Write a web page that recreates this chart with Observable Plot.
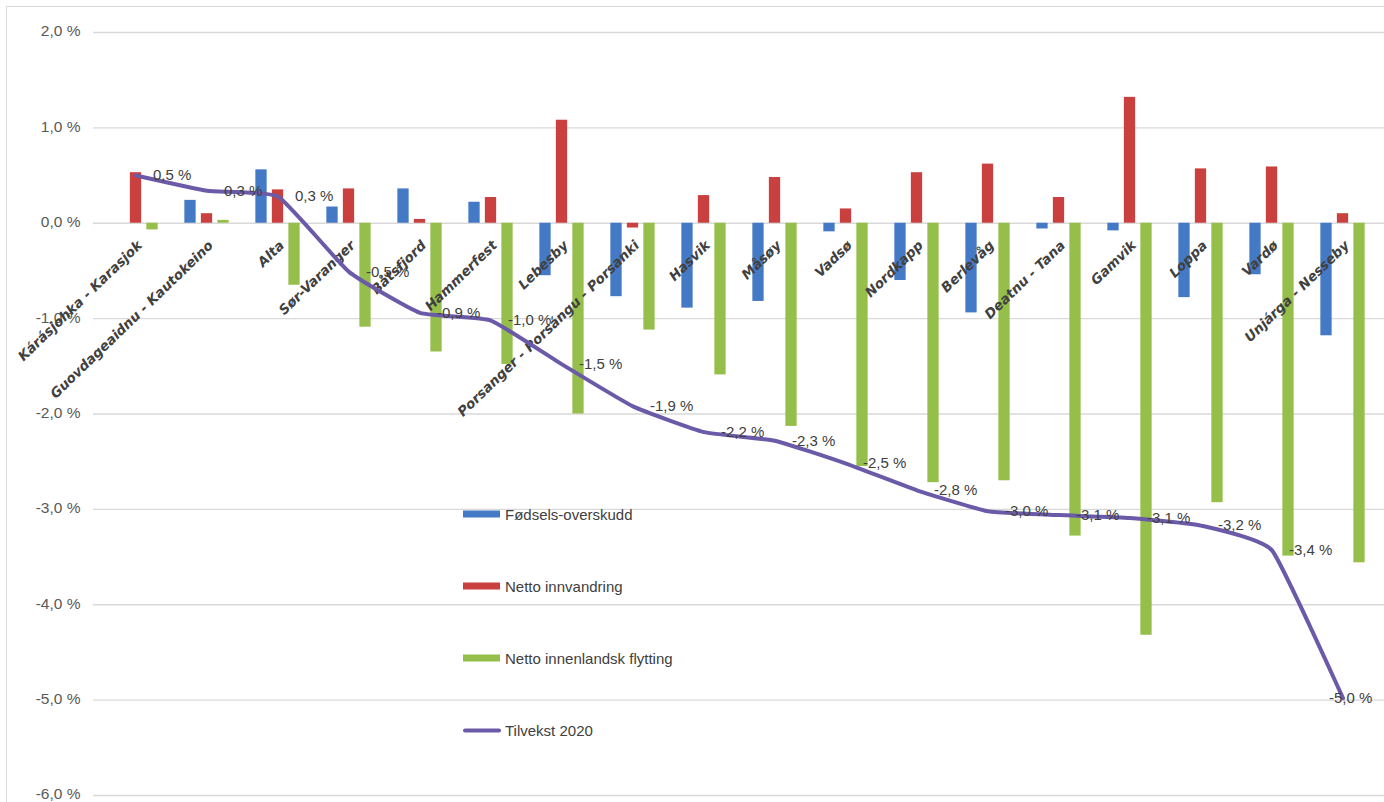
<!DOCTYPE html>
<html>
<head>
<meta charset="utf-8">
<script src="https://cdn.jsdelivr.net/npm/d3@7"></script>
<script src="https://cdn.jsdelivr.net/npm/@observablehq/plot@0.6"></script>
<style>
  html, body { margin: 0; padding: 0; background: #ffffff; }
  #wrap { position: relative; width: 1384px; height: 802px; overflow: hidden; background: #fff; }
  #frame { position: absolute; left: 6px; top: 6px; width: 1390px; height: 810px; border: 1px solid #d9d9d9; box-sizing: border-box; }
  #chart { position: absolute; left: 0; top: 0; }
  #legend { position: absolute; left: 463px; top: 0; font-family: "Liberation Sans", Arial, sans-serif; font-size: 15px; color: #404040; }
  .item { position: absolute; left: 0; display: flex; align-items: center; white-space: nowrap; transform: translateY(-50%); }
  .sw { width: 37px; height: 7px; margin-right: 5px; }
  .ln { width: 38px; height: 4px; border-radius: 2px; margin-right: 4px; }
</style>
</head>
<body>
<div id="wrap">
  <div id="frame"></div>
  <div id="chart"></div>
  <div id="legend"></div>
</div>
<script>
// ---- data ----
const categories = [
  "Kárásjohka - Karasjok", "Guovdageaidnu - Kautokeino", "Alta", "Sør-Varanger",
  "Båtsfjord", "Hammerfest", "Lebesby", "Porsanger - Porsángu - Porsanki",
  "Hasvik", "Måsøy", "Vadsø", "Nordkapp", "Berlevåg", "Deatnu - Tana",
  "Gamvik", "Loppa", "Vardø", "Unjárga - Nesseby"
];
const fodselsoverskudd = [0.00, 0.24, 0.56, 0.17, 0.36, 0.22, -0.55, -0.77, -0.89, -0.82, -0.09, -0.60, -0.94, -0.06, -0.08, -0.78, -0.54, -1.18];
const nettoInnvandring = [0.53, 0.10, 0.35, 0.36, 0.04, 0.27, 1.08, -0.05, 0.29, 0.48, 0.15, 0.53, 0.62, 0.27, 1.32, 0.57, 0.59, 0.10];
const nettoFlytting   = [-0.07, 0.03, -0.65, -1.09, -1.35, -1.48, -2.00, -1.12, -1.59, -2.13, -2.55, -2.72, -2.70, -3.28, -4.32, -2.93, -3.49, -3.56];
const tilvekst2020    = [0.50, 0.34, 0.28, -0.51, -0.94, -1.02, -1.48, -1.92, -2.19, -2.28, -2.52, -2.80, -3.02, -3.06, -3.09, -3.17, -3.43, -4.98];
const yTicks = [-6, -5, -4, -3, -2, -1, 0, 1, 2];
const seriesNames = ["Fødsels-overskudd", "Netto innvandring", "Netto innenlandsk flytting", "Tilvekst 2020"];
const seriesColors = ["#4479c5", "#c9403e", "#95bf4a", "#6a5aa8"];

// ---- build table ----
const rows = categories.map((c, i) => ({
  kommune: c,
  fodsel: fodselsoverskudd[i],
  innv: nettoInnvandring[i],
  flytt: nettoFlytting[i],
  tilvekst: tilvekst2020[i],
  last: i === categories.length - 1
}));

const fmt = v => v.toFixed(1).replace(".", ",") + " %";

const W = 1384, H = 802, mL = 93, mR = 0, mT = 32, mB = 7;
const bw = (W - mL - mR) / categories.length;
const barW = 12;
const inset = (bw - barW) / 2;
const off = 16.5;

const chart = Plot.plot({
  width: W,
  height: H,
  marginLeft: mL,
  marginRight: mR,
  marginTop: mT,
  marginBottom: mB,
  style: { fontFamily: "Liberation Sans, Arial, sans-serif", background: "transparent" },
  x: { type: "band", domain: categories, paddingInner: 0, paddingOuter: 0, axis: null },
  y: { domain: [-6, 2] },
  marks: [
    Plot.gridY(yTicks, { stroke: "#d9d9d9", strokeOpacity: 1, strokeWidth: 1.3 }),
    Plot.axisY(yTicks, { tickSize: 0, tickPadding: 13, tickFormat: fmt, fontSize: 15.5, dy: -1, color: "#595959", fontFamily: "Liberation Sans, Arial, sans-serif" }),
    Plot.barY(rows, { x: "kommune", y: "fodsel", fill: seriesColors[0], insetLeft: inset, insetRight: inset, dx: -off }),
    Plot.barY(rows, { x: "kommune", y: "innv", fill: seriesColors[1], insetLeft: inset, insetRight: inset }),
    Plot.barY(rows, { x: "kommune", y: "flytt", fill: seriesColors[2], insetLeft: inset, insetRight: inset, dx: off }),
    Plot.text(rows, {
      x: "kommune", y: () => 0, text: "kommune", rotate: -44, textAnchor: "end",
      dx: 4, dy: 20, fontSize: 13.5, fontWeight: "bold", fontStyle: "italic",
      fontFamily: "DejaVu Sans, sans-serif", fill: "#404040"
    }),
    Plot.line(rows, { x: "kommune", y: "tilvekst", stroke: seriesColors[3], strokeWidth: 4, curve: "cardinal", tension: 0.6, strokeLinejoin: "round" }),
    Plot.text(rows.filter(d => !d.last), { x: "kommune", y: "tilvekst", text: d => fmt(d.tilvekst), textAnchor: "start", dx: 17, fontSize: 15, fill: "#404040" }),
    Plot.text(rows.filter(d => d.last), { x: "kommune", y: "tilvekst", text: d => fmt(d.tilvekst), textAnchor: "start", dx: -14, fontSize: 15, fill: "#404040" })
  ]
});
document.getElementById("chart").appendChild(chart);

// ---- legend (inside plot area) ----
const legend = document.getElementById("legend");
const legendY = [514, 586, 658, 730];
seriesNames.forEach((name, i) => {
  const item = document.createElement("div");
  item.className = "item";
  item.style.top = legendY[i] + "px";
  const sw = document.createElement("span");
  sw.className = i === 3 ? "ln" : "sw";
  sw.style.background = seriesColors[i];
  const tx = document.createElement("span");
  tx.textContent = name;
  item.appendChild(sw);
  item.appendChild(tx);
  legend.appendChild(item);
});
</script>
</body>
</html>
